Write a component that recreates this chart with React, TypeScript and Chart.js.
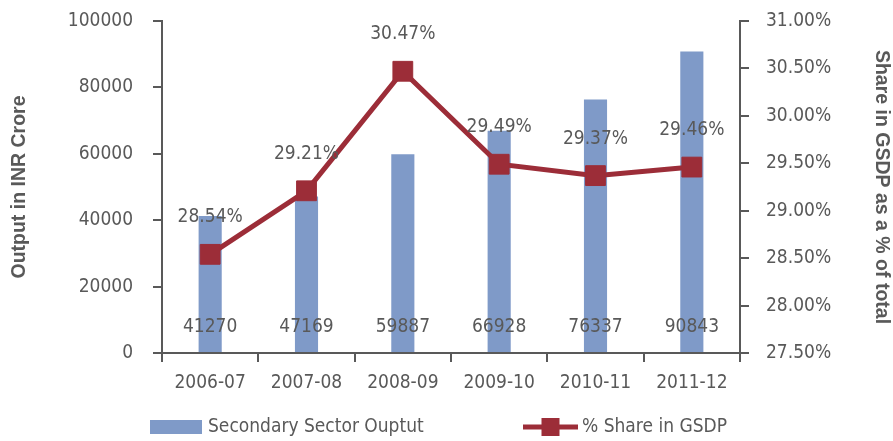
import React, { useEffect, useRef } from "react";
import { Chart, registerables } from "chart.js";

Chart.register(...registerables);

const categories = ["2006-07", "2007-08", "2008-09", "2009-10", "2010-11", "2011-12"];
const outputValues = [41270, 47169, 59887, 66928, 76337, 90843];
const shareValues = [28.54, 29.21, 30.47, 29.49, 29.37, 29.46];
const barLabel = "Secondary Sector Ouptut";
const lineLabel = "% Share in GSDP";
const leftTitle = "Output in INR Crore";
const rightTitle = "Share in GSDP as a % of total";

const BAR_COLOR = "#7F9AC8";
const LINE_COLOR = "#9C2D38";
const TEXT_COLOR = "#595959";
const AXIS_COLOR = "#595959";
const NARROW = "'Liberation Sans Narrow', 'DejaVu Sans Condensed', sans-serif";
const BOLD = "'Liberation Sans', Arial, sans-serif";
const FS = 19;

const labelsPlugin = {
  id: "customLabels",
  afterDatasetsDraw(chart: any) {
    const ctx = chart.ctx;
    ctx.save();
    ctx.fillStyle = TEXT_COLOR;
    ctx.font = `${FS}px ${NARROW}`;
    ctx.textAlign = "center";
    ctx.textBaseline = "middle";
    const yScale = chart.scales.y;
    const zero = yScale.getPixelForValue(0);
    const barMeta = chart.getDatasetMeta(1);
    barMeta.data.forEach((el: any, i: number) => {
      ctx.fillText(String(outputValues[i]), el.x, zero - 26);
    });
    const lineMeta = chart.getDatasetMeta(0);
    lineMeta.data.forEach((el: any, i: number) => {
      ctx.fillText(shareValues[i].toFixed(2) + "%", el.x, el.y - 37);
    });
    ctx.restore();
  },
  afterDraw(chart: any) {
    const ctx = chart.ctx;
    const area = chart.chartArea;
    const ly = area.bottom + 74;
    ctx.save();
    ctx.fillStyle = BAR_COLOR;
    ctx.fillRect(area.left - 12, ly - 7, 52, 14);
    ctx.fillStyle = TEXT_COLOR;
    ctx.font = `${FS}px ${NARROW}`;
    ctx.textAlign = "left";
    ctx.textBaseline = "middle";
    ctx.fillText(barLabel, area.left + 46, ly);
    const lx = area.left + 361;
    ctx.strokeStyle = LINE_COLOR;
    ctx.lineWidth = 5;
    ctx.beginPath();
    ctx.moveTo(lx, ly);
    ctx.lineTo(lx + 55, ly);
    ctx.stroke();
    ctx.fillStyle = LINE_COLOR;
    ctx.fillRect(lx + 27.5 - 9, ly - 9, 18, 18);
    ctx.fillStyle = TEXT_COLOR;
    ctx.fillText(lineLabel, lx + 59, ly);
    ctx.restore();
  },
};

export default function App() {
  const ref = useRef<HTMLCanvasElement | null>(null);
  useEffect(() => {
    if (!ref.current) return;
    const chart = new Chart(ref.current, {
      type: "bar",
      data: {
        labels: categories,
        datasets: [
          {
            type: "line",
            label: lineLabel,
            data: shareValues,
            yAxisID: "y1",
            borderColor: LINE_COLOR,
            backgroundColor: LINE_COLOR,
            borderWidth: 5,
            pointStyle: "rect",
            pointRadius: 14,
            pointBorderWidth: 1,
            pointBackgroundColor: LINE_COLOR,
            pointBorderColor: LINE_COLOR,
            tension: 0,
            order: 0,
          } as any,
          {
            type: "bar",
            label: barLabel,
            data: outputValues,
            yAxisID: "y",
            backgroundColor: BAR_COLOR,
            barPercentage: 0.24,
            categoryPercentage: 1,
            order: 1,
          },
        ],
      },
      options: {
        responsive: false,
        animation: false,
        layout: { padding: { top: 21, bottom: 43, left: 0, right: 0 } },
        plugins: {
          legend: { display: false },
          tooltip: { enabled: false },
        },
        scales: {
          x: {
            grid: {
              display: true,
              drawOnChartArea: false,
              drawTicks: true,
              tickLength: 9,
              color: AXIS_COLOR,
              lineWidth: 2,
              offset: true,
            },
            border: { color: AXIS_COLOR, width: 2 },
            ticks: { color: TEXT_COLOR, font: { family: NARROW, size: FS }, padding: 10 },
            afterFit: (s: any) => {
              s.height = 45;
            },
          },
          y: {
            position: "left",
            min: 0,
            max: 100000,
            ticks: {
              stepSize: 20000,
              color: TEXT_COLOR,
              font: { family: NARROW, size: FS },
              padding: 20,
              callback: (v: any) => String(v),
            },
            grid: {
              drawOnChartArea: false,
              drawTicks: true,
              tickLength: 9,
              color: AXIS_COLOR,
              lineWidth: 2,
            },
            border: { color: AXIS_COLOR, width: 2 },
            title: {
              display: true,
              text: leftTitle,
              color: TEXT_COLOR,
              font: { family: BOLD, size: 19.5, weight: "bold" },
              padding: { top: 8, bottom: 0 },
            },
            afterFit: (s: any) => {
              s.width = 162;
              s.paddingTop = 0;
              s.paddingBottom = 0;
            },
          },
          y1: {
            position: "right",
            min: 27.5,
            max: 31,
            ticks: {
              stepSize: 0.5,
              color: TEXT_COLOR,
              font: { family: NARROW, size: FS },
              padding: 17,
              callback: (v: any) => Number(v).toFixed(2) + "%",
            },
            grid: {
              drawOnChartArea: false,
              drawTicks: true,
              tickLength: 9,
              color: AXIS_COLOR,
              lineWidth: 2,
            },
            border: { color: AXIS_COLOR, width: 2 },
            title: {
              display: true,
              text: rightTitle,
              color: TEXT_COLOR,
              font: { family: BOLD, size: 19.5, weight: "bold" },
              padding: { top: 0, bottom: 0 },
            },
            afterFit: (s: any) => {
              s.width = 153;
              s.paddingTop = 0;
              s.paddingBottom = 0;
            },
          },
        },
      },
      plugins: [labelsPlugin],
    });
    return () => chart.destroy();
  }, []);
  return (
    <div style={{ position: "absolute", left: 0, top: 0, width: 893, height: 441, background: "#fff" }}>
      <canvas ref={ref} width={893} height={441} />
    </div>
  );
}
